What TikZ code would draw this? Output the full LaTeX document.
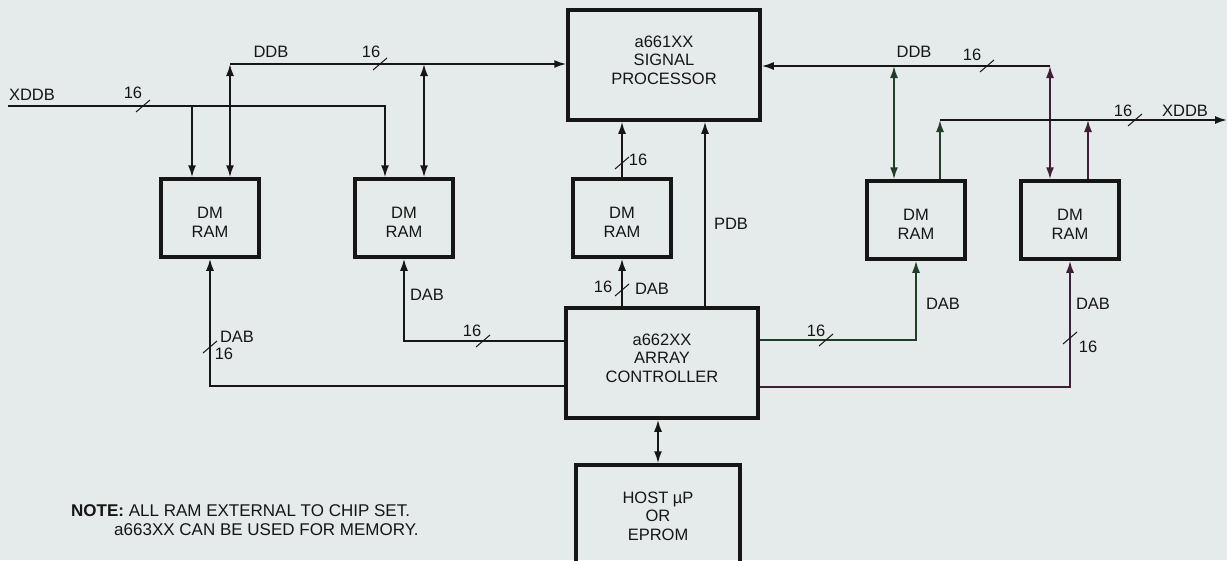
\documentclass[tikz,border=0pt]{standalone}
\usepackage{fontspec}
\setmainfont{Liberation Sans}
\usetikzlibrary{arrows.meta}

\definecolor{paper}{RGB}{229,234,234}
\definecolor{ink}{RGB}{22,22,22}
\definecolor{greenink}{RGB}{32,62,38}
\definecolor{purpleink}{RGB}{62,30,56}

\tikzset{
  chip/.style={draw=ink, line width=3.5pt, minimum width=192pt, minimum height=110pt,
    align=center, inner sep=0pt, text=ink, text depth=10pt},
  ram/.style={draw=ink, line width=3.5pt, minimum width=98pt, minimum height=78pt,
    align=center, inner sep=0pt, text=ink, text height=38pt},
  bus/.style={draw=ink, line width=1.8pt},
  arr/.style={-{Latex[length=12pt,width=8pt]}},
  dbl/.style={{Latex[length=12pt,width=8pt]}-{Latex[length=12pt,width=8pt]}},
  lbl/.style={inner sep=0pt, text=ink},
  slash/.style={draw=ink, line width=1pt}
}
\newcommand{\busmark}[1]{\draw[slash] ([shift={(-7,6)}]#1) -- ([shift={(7,-6)}]#1);}

\begin{document}
\begin{tikzpicture}[x=1pt,y=-1pt,font=\fontsize{16.5}{18.5}\selectfont]

\fill[paper] (0,0) rectangle (1227,560);
\useasboundingbox (0,0) rectangle (1227,560);
\clip (0,0) rectangle (1227,560);

% Chips
\node[chip] (sp) at (664,65) {a661XX\\SIGNAL\\PROCESSOR};
\node[chip] (ctrl) at (662,363) {a662XX\\ARRAY\\CONTROLLER};
\node[chip, minimum width=164pt, minimum height=106pt, text depth=4pt] (host) at (658,518) {HOST µP\\OR\\EPROM};

% Data memories
\node[ram] (ram1) at (210,218) {DM\\RAM};
\node[ram] (ram2) at (404,218) {DM\\RAM};
\node[ram] (ram3) at (622,218) {DM\\RAM};
\node[ram] (ram4) at (916,220) {DM\\RAM};
\node[ram] (ram5) at (1070,220) {DM\\RAM};

% Bus corners
\coordinate (xin) at (8,106);
\coordinate (ddbl) at (230,64);
\coordinate (ddbr) at (1050,66);
\coordinate (xout) at (1227,120);
\coordinate (pdb) at (705,200);
\coordinate (r1x) at ([xshift=-18pt]ram1.north);
\coordinate (r2x) at ([xshift=-19pt]ram2.north);
\coordinate (r2d) at ([xshift=20pt]ram2.north);
\coordinate (r4d) at ([xshift=-22pt]ram4.north);
\coordinate (r4o) at ([xshift=24pt]ram4.north);
\coordinate (r5o) at ([xshift=18pt]ram5.north);

% Left XDDB and DDB
\draw[bus,arr] (xin) -| (r2x);
\draw[bus,arr] (r1x |- xin) -- (r1x);
\draw[bus,arr] (ddbl) -- (sp.west |- ddbl);
\draw[bus,dbl] (ddbl) -- (ddbl |- ram1.north);
\draw[bus,dbl] (r2d |- ddbl) -- (r2d);

% Right DDB and XDDB
\draw[bus,arr] (ddbr) -- (sp.east |- ddbr);
\draw[bus,dbl,greenink] (r4d |- ddbr) -- (r4d);
\draw[bus,dbl,purpleink] (ddbr) -- (ddbr |- ram5.north);
\draw[bus,arr,greenink] (r4o) -- (r4o |- xout);
\draw[bus,arr] (r4o |- xout) -- (xout);
\draw[bus,arr,purpleink] (r5o) -- (r5o |- xout);

% Centre column
\draw[bus,arr] (ram3.north) -- (ram3.north |- sp.south);
\draw[bus,arr] (ctrl.north -| ram3) -- (ram3.south);
\draw[bus,arr] (ctrl.north -| pdb) -- (sp.south -| pdb);
\draw[bus,dbl] (host.north |- ctrl.south) -- (host.north);

% DAB lines
\draw[bus,arr] ([yshift=-23pt]ctrl.west) -| (ram1.south);
\draw[bus,arr] ([yshift=22pt]ctrl.west) -| (ram2.south);
\draw[bus,arr,greenink] ([yshift=23pt]ctrl.east) -| (ram4.south);
\draw[bus,arr,purpleink] ([yshift=-24pt]ctrl.east) -| (ram5.south);

% Bus widths
\busmark{143,106}
\busmark{380,64}
\busmark{987,66}
\busmark{1135,120}
\busmark{622,163}
\busmark{622,290}
\busmark{210,347}
\busmark{483,341}
\busmark{826,340}
\busmark{1070,338}

% Labels
\node[lbl] (xinl) at (32,95) {XDDB};
\node[lbl] (xinw) at (133,93) {16};
\node[lbl] (ddbll) at (271,52) {DDB};
\node[lbl] (ddblw) at (371,52) {16};
\node[lbl] (ddbrl) at (914,52) {DDB};
\node[lbl] (ddbrw) at (972,55) {16};
\node[lbl] (xoutw) at (1123,111) {16};
\node[lbl] (xoutl) at (1185,111) {XDDB};
\node[lbl] (spw) at (638,160) {16};
\node[lbl] (pdbl) at (731,224) {PDB};
\node[lbl] (r3w) at (603,287) {16};
\node[lbl] (r3l) at (652,289) {DAB};
\node[lbl] (r1l) at (237,337) {DAB};
\node[lbl] (r1w) at (224,354) {16};
\node[lbl] (r2l) at (427,295) {DAB};
\node[lbl] (r2w) at (472,331) {16};
\node[lbl] (r4w) at (816,331) {16};
\node[lbl] (r4l) at (943,304) {DAB};
\node[lbl] (r5l) at (1093,304) {DAB};
\node[lbl] (r5w) at (1088,347) {16};

% Note
\node[lbl, anchor=west, align=left, font=\fontsize{17}{18.5}\selectfont] (note) at (71,520)
  {\textbf{NOTE:} ALL RAM EXTERNAL TO CHIP SET.\\\hspace*{43pt}a663XX CAN BE USED FOR MEMORY.};

\end{tikzpicture}
\end{document}
